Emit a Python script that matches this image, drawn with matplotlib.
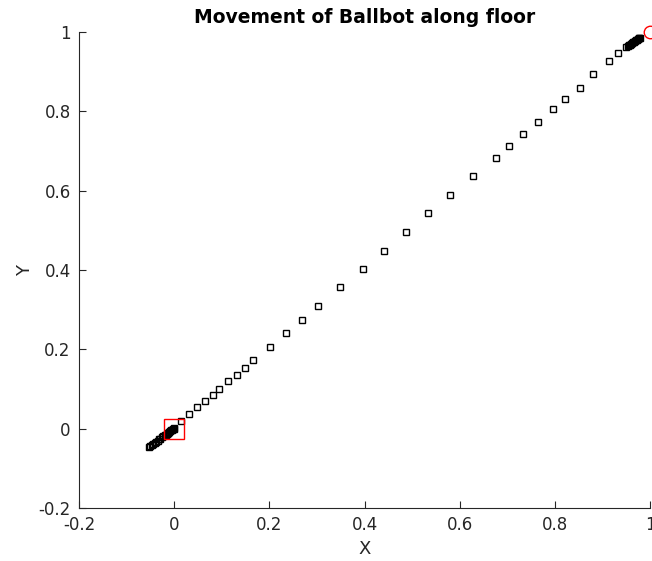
import matplotlib
matplotlib.use("Agg")
import matplotlib.pyplot as plt

# Trajectory samples (hollow squares)
path_x = [-0.053, -0.050, -0.047, -0.044, -0.041, -0.038, -0.035, -0.032, -0.029,
          -0.026, -0.023, -0.020, -0.018, -0.016, -0.014, -0.012, -0.010, -0.008,
          -0.006, -0.004, -0.002, -0.001, 0.000,
          0.014, 0.031, 0.047, 0.064, 0.081, 0.095, 0.114, 0.133, 0.149, 0.165,
          0.201, 0.234, 0.269, 0.302, 0.348, 0.396, 0.441, 0.488, 0.534, 0.580,
          0.627, 0.676, 0.704, 0.733, 0.764, 0.796, 0.821, 0.852, 0.881, 0.914,
          0.933,
          0.950, 0.953, 0.956, 0.958, 0.960, 0.962, 0.964, 0.966, 0.968, 0.970,
          0.972, 0.974, 0.976, 0.977, 0.978]
path_y = [-0.047, -0.044, -0.041, -0.038, -0.036, -0.033, -0.030, -0.027, -0.025,
          -0.022, -0.019, -0.017, -0.015, -0.013, -0.011, -0.010, -0.008, -0.006,
          -0.004, -0.003, -0.001, 0.000, 0.001,
          0.019, 0.036, 0.055, 0.071, 0.084, 0.101, 0.121, 0.136, 0.153, 0.173,
          0.205, 0.241, 0.275, 0.308, 0.357, 0.402, 0.448, 0.497, 0.543, 0.588,
          0.638, 0.683, 0.713, 0.743, 0.772, 0.806, 0.832, 0.860, 0.894, 0.927,
          0.946,
          0.962, 0.964, 0.966, 0.968, 0.970, 0.972, 0.974, 0.976, 0.977, 0.979,
          0.981, 0.982, 0.984, 0.985, 0.986]

start_x, start_y = [0.0], [0.0]
goal_x, goal_y = [1.0], [1.0]

title = "Movement of Ballbot along floor"
xticks = [-0.2, 0, 0.2, 0.4, 0.6, 0.8, 1]
yticks = [-0.2, 0, 0.2, 0.4, 0.6, 0.8, 1]
xticklabels = ["-0.2", "0", "0.2", "0.4", "0.6", "0.8", "1"]
yticklabels = ["-0.2", "0", "0.2", "0.4", "0.6", "0.8", "1"]

fig = plt.figure(figsize=(6.52, 5.61), dpi=100)
ax = fig.add_axes([79/652, 1 - 508/561, (650-79)/652, (508-32)/561])

ax.plot(path_x, path_y, linestyle='none', marker='s', markersize=5,
        markerfacecolor='none', markeredgecolor='black', markeredgewidth=1.0)
ax.plot(start_x, start_y, linestyle='none', marker='s', markersize=14,
        markerfacecolor='none', markeredgecolor='red', markeredgewidth=1.0)
ax.plot(goal_x, goal_y, linestyle='none', marker='o', markersize=9,
        markerfacecolor='none', markeredgecolor='red', markeredgewidth=1.0,
        clip_on=False)

ax.set_xlim(-0.2, 1)
ax.set_ylim(-0.2, 1)
ax.set_xticks(xticks)
ax.set_xticklabels(xticklabels)
ax.set_yticks(yticks)
ax.set_yticklabels(yticklabels)

axcol = '#262626'
for s in ['top', 'right']:
    ax.spines[s].set_visible(False)
for s in ['left', 'bottom']:
    ax.spines[s].set_color(axcol)
    ax.spines[s].set_linewidth(0.8)
ax.tick_params(direction='in', length=5, width=0.8, colors=axcol, labelsize=12,
               pad=6)

ax.set_xlabel("X", fontsize=13, color=axcol, labelpad=4)
ax.set_ylabel("Y", fontsize=13, color=axcol, labelpad=3)
ax.set_title(title, fontsize=13.5, fontweight='bold', color='black',
             pad=6.5)

fig.savefig("out.png", dpi=100)
